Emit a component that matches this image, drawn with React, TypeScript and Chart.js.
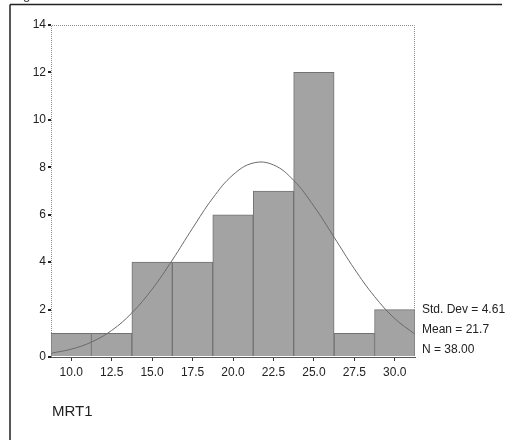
import React, { useEffect, useRef } from "react";
import { Chart, registerables } from "chart.js";

Chart.register(...registerables);

const BIN_CENTERS = [10, 12.5, 15, 17.5, 20, 22.5, 25, 27.5, 30];
const COUNTS = [1, 1, 4, 4, 6, 7, 12, 1, 2];
const CURVE_X = [8.75, 10, 11.25, 12.5, 13.75, 15, 16.25, 17.5, 18.75, 20, 21.25, 22.5, 23.75, 25, 26.25, 27.5, 28.75, 30, 31.25];
const CURVE_Y = [0.16, 0.33, 0.63, 1.12, 1.86, 2.86, 4.09, 5.43, 6.7, 7.68, 8.18, 8.1, 7.45, 6.36, 5.05, 3.72, 2.55, 1.62, 0.96];
const X_TICKS = [10, 12.5, 15, 17.5, 20, 22.5, 25, 27.5, 30];
const Y_TICKS = [0, 2, 4, 6, 8, 10, 12, 14];
const STATS = ["Std. Dev = 4.61", "Mean = 21.7", "N = 38.00"];
const VAR_LABEL = "MRT1";
const CUT_TEXT = "g";

const FONT = "'Liberation Sans', Arial, sans-serif";

const framePlugin = {
  id: "spssFrame",
  beforeDraw(chart: any) {
    const ctx = chart.ctx;
    ctx.save();
    ctx.fillStyle = "#ffffff";
    ctx.fillRect(0, 0, chart.width, chart.height);
    ctx.strokeStyle = "#222";
    ctx.lineWidth = 1.5;
    ctx.beginPath();
    ctx.moveTo(10, 4.5);
    ctx.lineTo(502, 4.5);
    ctx.moveTo(10, 4.5);
    ctx.lineTo(10, 440);
    ctx.stroke();
    ctx.fillStyle = "#333";
    ctx.font = `13px ${FONT}`;
    ctx.textBaseline = "alphabetic";
    ctx.fillText(CUT_TEXT, 23, -1);
    ctx.restore();
  },
  afterDraw(chart: any) {
    const ctx = chart.ctx;
    const a = chart.chartArea;
    ctx.save();
    ctx.strokeStyle = "#8a8a8a";
    ctx.lineWidth = 1;
    ctx.setLineDash([1, 1]);
    ctx.beginPath();
    ctx.moveTo(a.left + 0.5, a.bottom);
    ctx.lineTo(a.left + 0.5, a.top + 0.5);
    ctx.lineTo(a.right - 0.5, a.top + 0.5);
    ctx.lineTo(a.right - 0.5, a.bottom);
    ctx.stroke();
    ctx.setLineDash([]);
    ctx.fillStyle = "#222";
    ctx.font = `12px ${FONT}`;
    ctx.textBaseline = "middle";
    ctx.textAlign = "left";
    const ys = [310, 330, 350];
    STATS.forEach((s, i) => ctx.fillText(s, a.right + 7, ys[i]));
    ctx.font = `15px ${FONT}`;
    ctx.fillText(VAR_LABEL, 52, 412);
    ctx.restore();
  },
};

export default function App() {
  const ref = useRef<HTMLCanvasElement>(null);
  useEffect(() => {
    if (!ref.current) return;
    const chart = new Chart(ref.current, {
      type: "bar",
      data: {
        datasets: [
          {
            type: "line",
            data: CURVE_X.map((x, i) => ({ x, y: CURVE_Y[i] })),
            borderColor: "#6a6a6a",
            borderWidth: 1,
            pointRadius: 0,
            tension: 0.4,
            fill: false,
            order: 0,
          } as any,
          {
            type: "bar",
            data: BIN_CENTERS.map((x, i) => ({ x, y: COUNTS[i] })),
            backgroundColor: "#a3a3a3",
            borderColor: "#727272",
            borderWidth: 1,
            barPercentage: 1,
            categoryPercentage: 1,
            order: 1,
          } as any,
        ],
      },
      options: {
        responsive: false,
        animation: false,
        layout: { padding: { left: 0, top: 25, right: 92, bottom: 0 } },
        plugins: { legend: { display: false }, tooltip: { enabled: false } },
        scales: {
          x: {
            type: "linear",
            min: 8.75,
            max: 31.25,
            offset: false,
            afterBuildTicks: (s: any) => {
              s.ticks = X_TICKS.map((v) => ({ value: v }));
            },
            afterFit: (s: any) => {
              s.height = 83;
            },
            border: { display: true, color: "#555", width: 1 },
            grid: { display: true, offset: false, drawOnChartArea: false, tickLength: 4, color: "#333" },
            ticks: {
              color: "#222",
              font: { family: FONT, size: 12 },
              padding: 4,
              maxRotation: 0,
              autoSkip: false,
              callback: (v: any) => Number(v).toFixed(1),
            },
          },
          y: {
            min: 0,
            max: 14,
            afterBuildTicks: (s: any) => {
              s.ticks = Y_TICKS.map((v) => ({ value: v }));
            },
            afterFit: (s: any) => {
              s.width = 51;
            },
            border: { display: false },
            grid: { display: true, drawOnChartArea: false, tickLength: 3, color: "#222", lineWidth: 2 },
            ticks: {
              color: "#222",
              font: { family: FONT, size: 12 },
              padding: 2,
            },
          },
        },
      },
      plugins: [framePlugin],
    });
    return () => chart.destroy();
  }, []);
  return (
    <div style={{ position: "fixed", left: 0, top: 0, width: 507, height: 440, background: "#fff" }}>
      <canvas ref={ref} width={507} height={440} style={{ display: "block" }} />
    </div>
  );
}
